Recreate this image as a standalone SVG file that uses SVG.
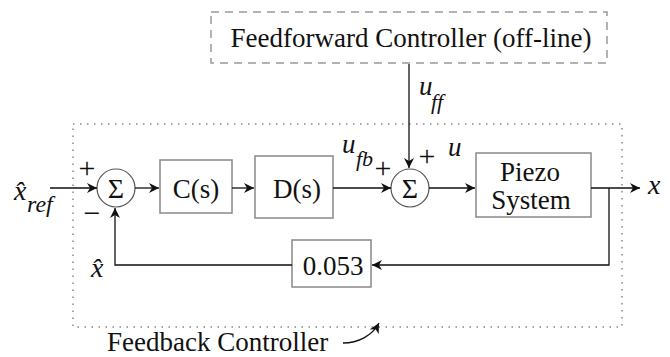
<svg xmlns="http://www.w3.org/2000/svg" width="670" height="357" viewBox="0 0 670 357">
<style>
text{fill:#111}
.blk{fill:#fff;stroke:#888;stroke-width:1.5}
.ln{fill:none;stroke:#111;stroke-width:1.3}
.it{font-style:italic}
</style>
<defs>
<marker id="ah" viewBox="0 0 10 10" refX="10" refY="5" markerWidth="10" markerHeight="10" markerUnits="userSpaceOnUse" orient="auto">
<path d="M0,0 L10,5 L0,10 L3,5 z" fill="#111"/>
</marker>
</defs>
<rect x="73" y="124" width="549" height="203" fill="none" stroke="#888" stroke-width="1.5" stroke-dasharray="1.5,5.5"/>
<g font-family="Liberation Serif, Times New Roman, serif">
<g id="feedforward">
<rect x="211" y="12" width="396" height="51" fill="none" stroke="#999" stroke-width="1.5" stroke-dasharray="8,6"/>
<text x="411" y="47" text-anchor="middle" font-size="27">Feedforward Controller  (off-line)</text>
</g>
<g id="sum1">
<circle cx="116" cy="188" r="19" fill="#fff" stroke="#555" stroke-width="1.2"/>
<text x="116" y="198" text-anchor="middle" font-size="28">Σ</text>
</g>
<g id="cs">
<rect x="160" y="160" width="72" height="53" class="blk"/>
<text x="196" y="198" text-anchor="middle" font-size="27">C(s)</text>
</g>
<g id="ds">
<rect x="255" y="156" width="78" height="62" class="blk"/>
<text x="297" y="198" text-anchor="middle" font-size="27">D(s)</text>
</g>
<g id="sum2">
<circle cx="410" cy="188" r="19" fill="#fff" stroke="#555" stroke-width="1.2"/>
<text x="410" y="198" text-anchor="middle" font-size="28">Σ</text>
</g>
<g id="piezo">
<rect x="476" y="153" width="115" height="64" class="blk"/>
<text x="530" y="181" text-anchor="middle" font-size="27">Piezo</text>
<text x="531" y="209" text-anchor="middle" font-size="27">System</text>
</g>
<g id="gain">
<rect x="292" y="240" width="79" height="47" class="blk"/>
<text x="333" y="275" text-anchor="middle" font-size="27">0.053</text>
</g>
<g id="connectors">
<line x1="50" y1="188" x2="97" y2="188" class="ln" marker-end="url(#ah)"/>
<line x1="135" y1="188" x2="159" y2="188" class="ln" marker-end="url(#ah)"/>
<line x1="232" y1="188" x2="254" y2="188" class="ln" marker-end="url(#ah)"/>
<line x1="333" y1="188" x2="391" y2="188" class="ln" marker-end="url(#ah)"/>
<line x1="409" y1="64" x2="409" y2="168" class="ln" marker-end="url(#ah)"/>
<line x1="429" y1="188" x2="475" y2="188" class="ln" marker-end="url(#ah)"/>
<line x1="591" y1="188" x2="640" y2="188" class="ln" marker-end="url(#ah)"/>
<polyline points="609,188 609,265 372,265" class="ln" marker-end="url(#ah)"/>
<polyline points="292,265 115,265 115,208" class="ln" marker-end="url(#ah)"/>
<path d="M343,343 C358,343 372,336 379,323" class="ln" marker-end="url(#ah)"/>
</g>
<g id="labels">
<text class="it" x="14" y="200" font-size="28">x̂</text>
<text class="it" x="27" y="212" font-size="24">ref</text>
<text class="it" x="91" y="277" font-size="28">x̂</text>
<text x="87" y="178" font-size="30" text-anchor="middle">+</text>
<text x="92" y="223" font-size="30" text-anchor="middle">−</text>
<text x="383" y="178" font-size="30" text-anchor="middle">+</text>
<text x="427" y="166" font-size="30" text-anchor="middle">+</text>
<text class="it" x="448" y="156" font-size="27">u</text>
<text class="it" x="342" y="153" font-size="27">u</text>
<text class="it" x="356" y="166" font-size="22">fb</text>
<text class="it" x="419" y="95" font-size="27">u</text>
<text class="it" x="431" y="109" font-size="22">ff</text>
<text class="it" x="648" y="194" font-size="28">x</text>
<text x="107" y="351" font-size="27">Feedback Controller</text>
</g>
</g>
</svg>
